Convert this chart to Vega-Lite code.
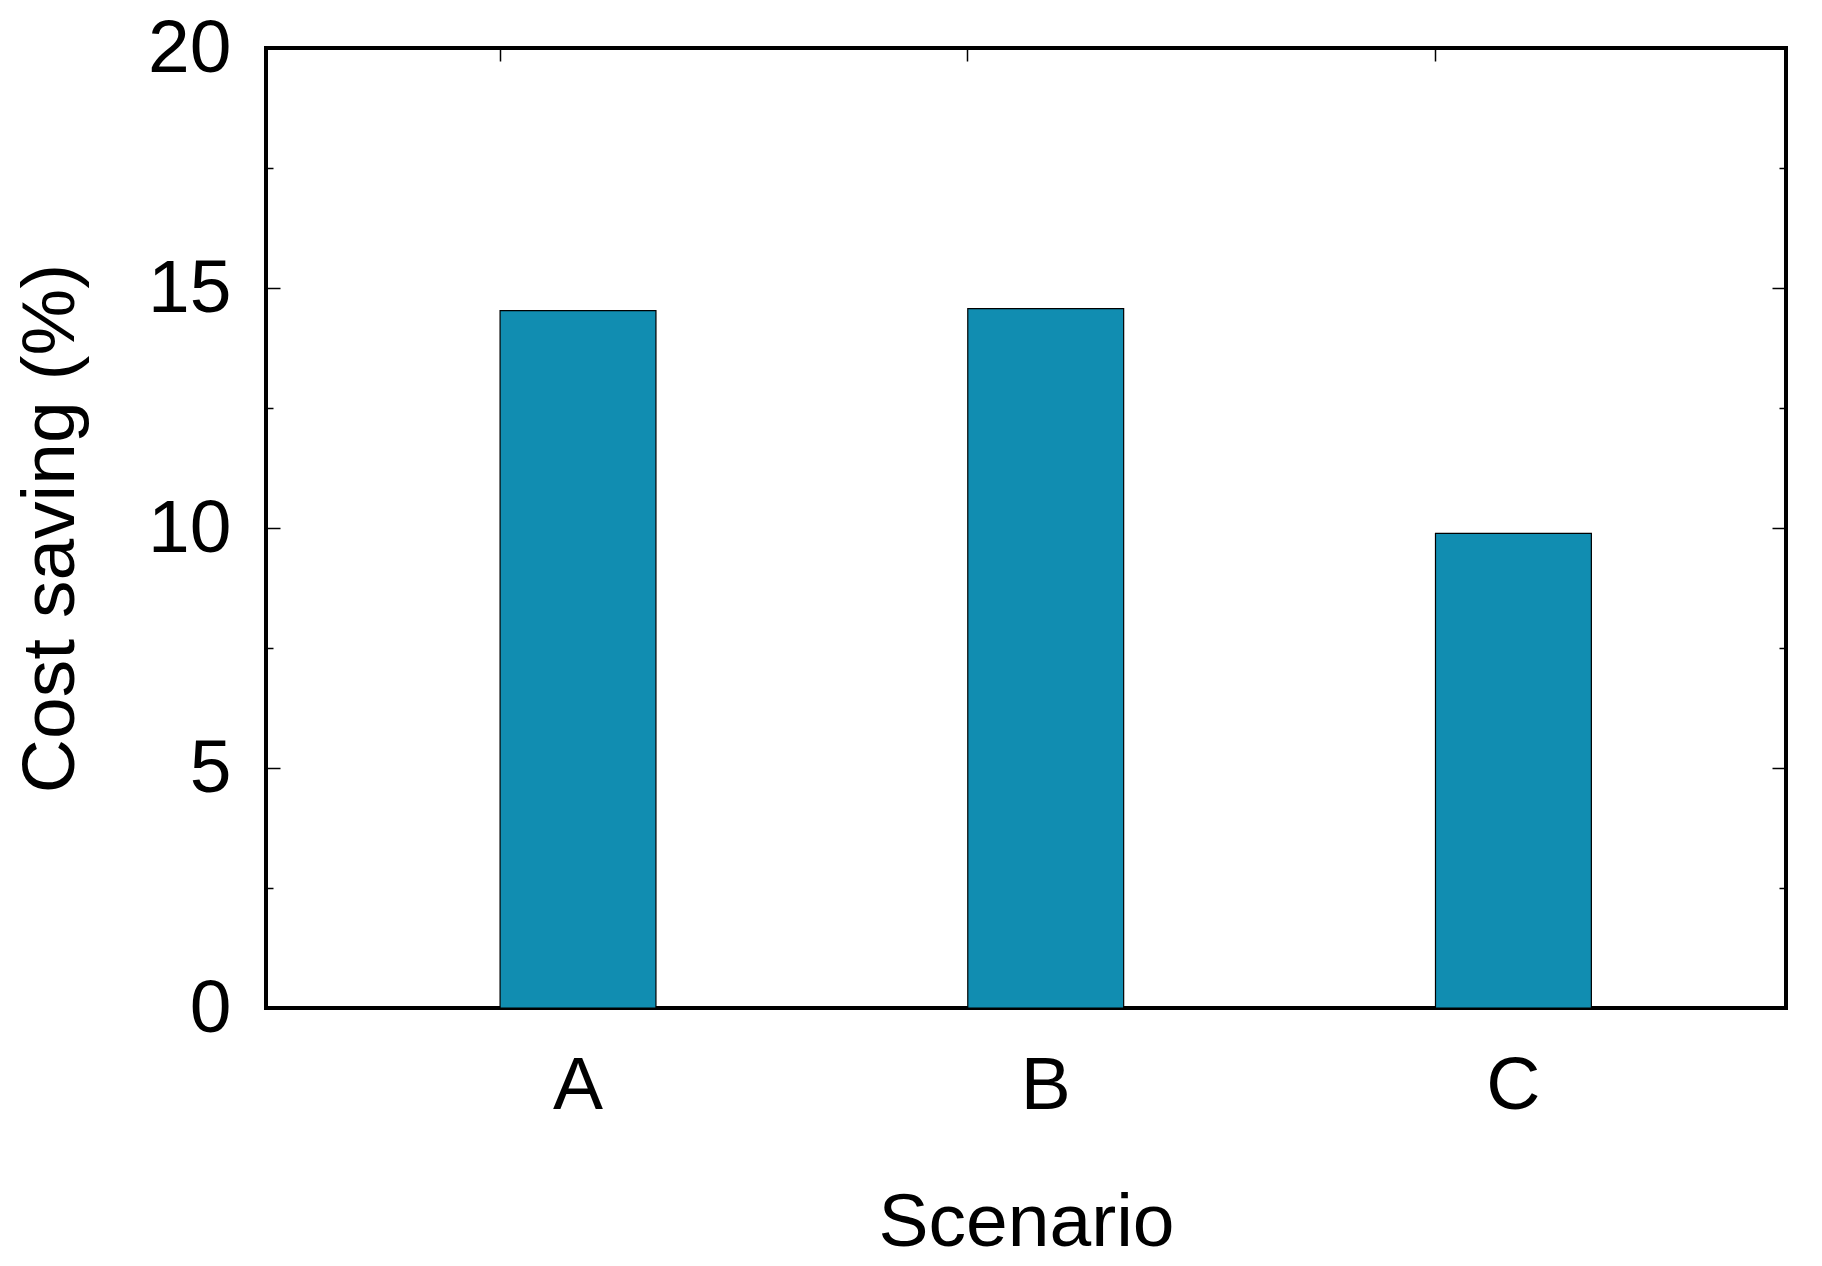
{
  "$schema": "https://vega.github.io/schema/vega-lite/v6.json",
  "width": 1520,
  "height": 960,
  "autosize": "none",
  "padding": {"left": 266, "top": 48, "right": 36, "bottom": 258},
  "background": "white",
  "config": {
    "font": "Liberation Sans",
    "view": {"stroke": "black", "strokeWidth": 4},
    "axis": {"labelFont": "Liberation Sans", "titleFont": "Liberation Sans", "labelColor": "black", "titleColor": "black", "titleFontWeight": "normal", "tickColor": "black"}
  },
  "data": {"values": [
    {"scenario": "A", "saving": 14.53},
    {"scenario": "B", "saving": 14.57},
    {"scenario": "C", "saving": 9.89}
  ]},
  "layer": [
    {
      "mark": {"type": "bar", "fill": "#118db1", "stroke": "black", "strokeWidth": 1.2},
      "encoding": {
        "x": {"field": "scenario", "type": "nominal", "sort": ["A", "B", "C"],
          "scale": {"paddingInner": 0.6667, "paddingOuter": 0.4583, "align": 0.546},
          "axis": {"orient": "bottom", "title": "Scenario", "labelAngle": 0, "labelFontSize": 75, "titleFontSize": 75, "labelPadding": 41, "titlePadding": 63, "ticks": false, "domain": false, "labelBaseline": "top"}},
        "y": {"field": "saving", "type": "quantitative",
          "scale": {"domain": [0, 20], "nice": false, "zero": true},
          "axis": {"orient": "left", "title": "Cost saving (%)", "values": [0, 5, 10, 15, 20], "labelFontSize": 75, "titleFontSize": 75, "labelPadding": 35, "titlePadding": 58, "ticks": false, "domain": false, "grid": false}}
      }
    },
    {
      "mark": {"type": "bar", "opacity": 0},
      "encoding": {
        "x": {"field": "scenario", "type": "nominal", "sort": ["A", "B", "C"],
          "axis": {"orient": "top", "title": null, "labels": false, "domain": false, "ticks": true, "bandPosition": 0, "tickSize": -13, "tickWidth": 1.5}},
        "y": {"field": "saving", "type": "quantitative",
          "axis": {"orient": "left", "title": null, "labels": false, "domain": false, "grid": false, "values": [0, 2.5, 5, 7.5, 10, 12.5, 15, 17.5, 20], "tickWidth": 1.5,
            "tickSize": {"condition": {"test": "datum.value % 5 === 0", "value": -14}, "value": -7}}}
      }
    },
    {
      "mark": {"type": "bar", "opacity": 0},
      "encoding": {
        "x": {"field": "scenario", "type": "nominal", "sort": ["A", "B", "C"], "axis": null},
        "y": {"field": "saving", "type": "quantitative",
          "axis": {"orient": "right", "title": null, "labels": false, "domain": false, "grid": false, "values": [0, 2.5, 5, 7.5, 10, 12.5, 15, 17.5, 20], "tickWidth": 1.5,
            "tickSize": {"condition": {"test": "datum.value % 5 === 0", "value": -14}, "value": -7}}}
      }
    }
  ],
  "resolve": {"axis": {"x": "independent", "y": "independent"}}
}
